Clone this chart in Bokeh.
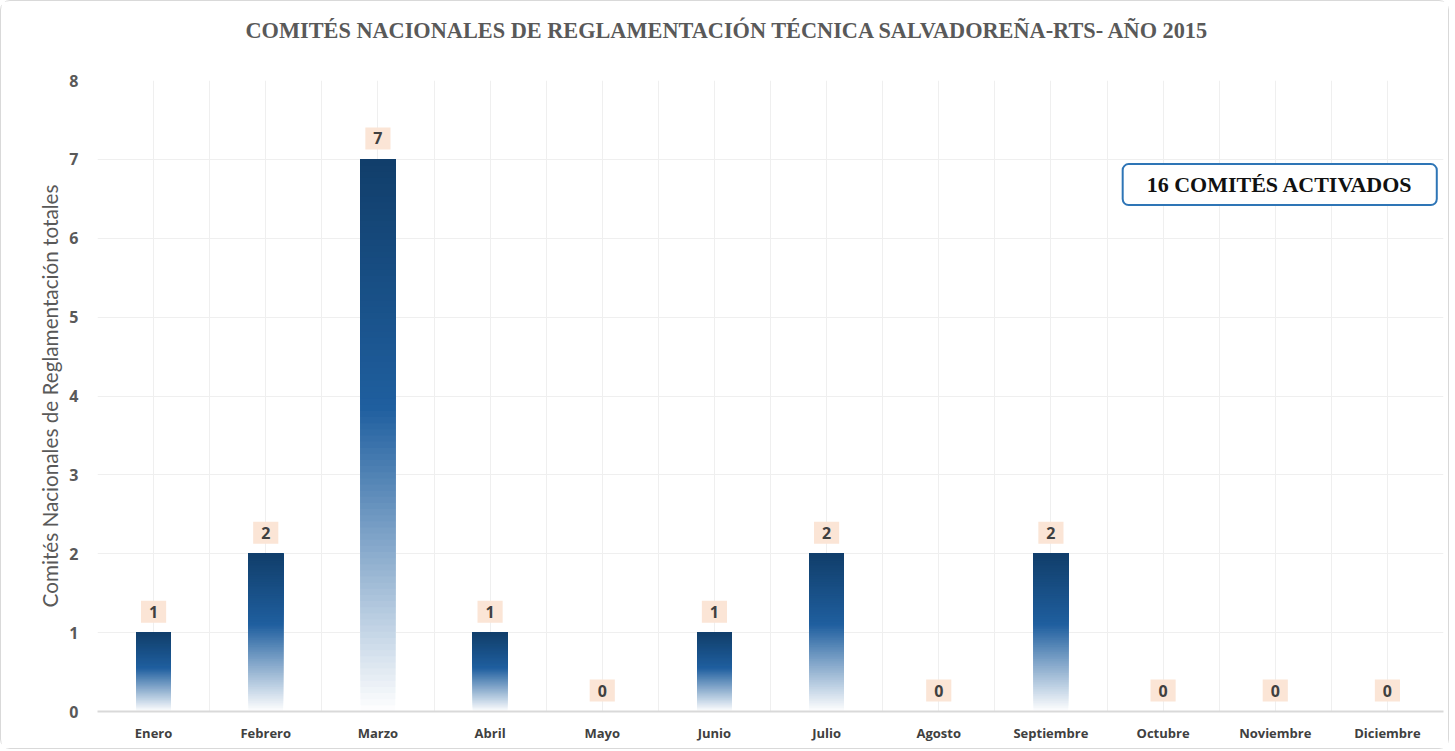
from bokeh.plotting import figure
from bokeh.models import ColumnDataSource, FixedTicker, Label, Title
from bokeh.core.properties import value
from bokeh.embed import file_html
from bokeh.resources import INLINE

# ---- data ----
months = ["Enero", "Febrero", "Marzo", "Abril", "Mayo", "Junio", "Julio",
          "Agosto", "Septiembre", "Octubre", "Noviembre", "Diciembre"]
values = [1, 2, 7, 1, 0, 1, 2, 0, 2, 0, 0, 0]
y_ticks = [0, 1, 2, 3, 4, 5, 6, 7, 8]
title_text = "COMITÉS NACIONALES DE REGLAMENTACIÓN TÉCNICA SALVADOREÑA-RTS- AÑO 2015"
y_label = "Comités Nacionales de Reglamentación totales"
total_text = "16 COMITÉS ACTIVADOS"

# gradient stops (fraction of bar height -> colour)
stops = [(0.0, (255, 255, 255)), (0.55, (31, 95, 159)), (1.0, (17, 62, 106))]


def grad(t):
    for (t0, c0), (t1, c1) in zip(stops[:-1], stops[1:]):
        if t0 <= t <= t1:
            f = (t - t0) / (t1 - t0)
            return "#%02x%02x%02x" % tuple(int(round(a + (b - a) * f)) for a, b in zip(c0, c1))
    return "#%02x%02x%02x" % stops[-1][1]


# each slice runs from its own bottom up to the bar top; later slices cover earlier ones
N = 90
xs, bots, tops, cols = [], [], [], []
for i, v in enumerate(values):
    if v <= 0:
        continue
    for k in range(N):
        xs.append(i + 0.5)
        bots.append(v * k / N)
        tops.append(v)
        cols.append(grad((k + 0.5) / N))
seg_src = ColumnDataSource(dict(x=xs, b=bots, t=tops, c=cols))

lab_src = ColumnDataSource(dict(x=[i + 0.5 for i in range(len(months))],
                                y=values, txt=[str(v) for v in values]))

p = figure(width=1449, height=749, x_range=(0, 12), y_range=(0, 8),
           output_backend="svg", toolbar_location=None,
           min_border_left=96, min_border_right=7, min_border_top=79, min_border_bottom=39)
p.styles = {"border": "1px solid #d9d9d9", "border-radius": "10px"}
p.outline_line_color = None
p.background_fill_color = "white"
p.border_fill_color = "white"

p.title.text = title_text
p.title.align = "left"
p.title.offset = 148
p.title.standoff = 0
p.title.text_font = "Liberation Serif"
p.title.text_font_style = "bold"
p.title.text_font_size = "22.3px"
p.title.text_color = "#595959"

# blank spacer between the frame and the title
p.add_layout(Title(text=" ", text_font_size="1px", standoff=35), "above")

p.vbar(x="x", width=0.31, bottom="b", top="t", fill_color="c", line_color=None,
       source=seg_src)

p.text(x="x", y="y", text="txt", source=lab_src, y_offset=-21,
       text_align="center", text_baseline="middle",
       text_font=value("Open Sans"), text_font_style="bold", text_font_size="16px",
       text_color="#404040", background_fill_color="#FBE5D6",
       padding=dict(left=8, right=8, top=5, bottom=5))

# axes
p.xaxis.ticker = FixedTicker(ticks=[i + 0.5 for i in range(len(months))])
p.xaxis.major_label_overrides = {i + 0.5: m for i, m in enumerate(months)}
p.xaxis.major_tick_line_color = None
p.xaxis.minor_tick_line_color = None
p.xaxis.axis_line_color = "#d9d9d9"
p.xaxis.axis_line_width = 2
p.xaxis.major_label_text_font = "Open Sans"
p.xaxis.major_label_text_font_style = "bold"
p.xaxis.major_label_text_font_size = "13px"
p.xaxis.major_label_text_color = "#404040"
p.xaxis.major_label_standoff = 6

p.yaxis.ticker = FixedTicker(ticks=y_ticks)
p.yaxis.major_tick_line_color = None
p.yaxis.minor_tick_line_color = None
p.yaxis.axis_line_color = None
p.yaxis.major_label_text_font = "Open Sans"
p.yaxis.major_label_text_font_style = "bold"
p.yaxis.major_label_text_font_size = "16px"
p.yaxis.major_label_text_color = "#595959"
p.yaxis.major_label_standoff = 13
p.yaxis.axis_label = y_label
p.yaxis.axis_label_text_font = "Lato"
p.yaxis.axis_label_text_font_style = "normal"
p.yaxis.axis_label_text_font_size = "20.7px"
p.yaxis.axis_label_text_color = "#595959"
p.yaxis.axis_label_standoff = 4

p.xgrid.ticker = FixedTicker(ticks=[i * 0.5 for i in range(25)])
p.xgrid.grid_line_color = "#efefef"
p.ygrid.grid_line_color = "#efefef"

p.add_layout(Label(x=10.54, y=6.68, text=total_text, text_align="center",
                   text_baseline="middle", text_font="Liberation Serif",
                   text_font_style="bold", text_font_size="22px", text_color="#111111",
                   background_fill_color="white", border_line_color="#2E75B6",
                   border_line_width=2, border_radius=6,
                   padding=dict(left=24, right=24, top=8, bottom=8)))

open("out.html", "w").write(file_html(p, INLINE))
